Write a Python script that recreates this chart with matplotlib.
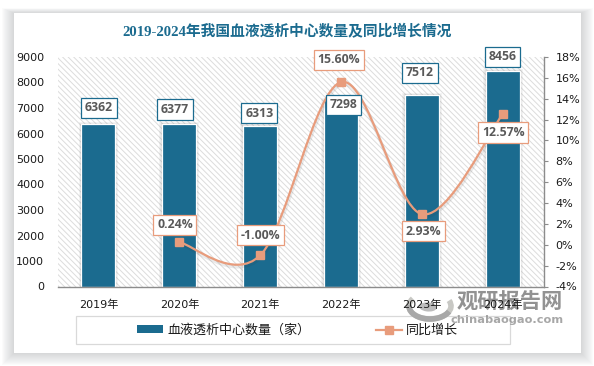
from matplotlib import pyplot as plt
from matplotlib import patheffects as pe
from matplotlib.patches import Rectangle, Ellipse, Arc
from matplotlib.path import Path
from matplotlib.patches import PathPatch
from matplotlib.lines import Line2D

years = ['2019年', '2020年', '2021年', '2022年', '2023年', '2024年']
counts = [6362, 6377, 6313, 7298, 7512, 8456]
growth_years = [1, 2, 3, 4, 5]
growth = [0.24, -1.00, 15.60, 2.93, 12.57]
left_ticks = [0, 1000, 2000, 3000, 4000, 5000, 6000, 7000, 8000, 9000]
right_ticks = [-4, -2, 0, 2, 4, 6, 8, 10, 12, 14, 16, 18]

BLUE = '#1b6b8f'
ORANGE = '#e89c7c'
GREY = '#595959'
W, H = 594, 366
CJK = ['DejaVu Sans', 'Noto Sans CJK SC']

plt.rcParams['font.family'] = CJK
plt.rcParams['hatch.linewidth'] = 0.7
plt.rcParams['hatch.color'] = '#dcdcdc'


def fx(px):
    return px / W


def fy(py):
    return 1 - py / H


fig = plt.figure(figsize=(W / 100, H / 100), dpi=100, facecolor='white')

# card with soft shadow
for i in range(12):
    grow = 12 - i
    fig.add_artist(Rectangle((fx(14 - grow), fy(353 + grow)), (567 + 2 * grow) / W, (340 + 1.4 * grow) / H,
                             transform=fig.transFigure, fc='#70757a', ec='none', alpha=0.022, zorder=-6))
fig.add_artist(Rectangle((fx(14), fy(353)), 567 / W, 340 / H, transform=fig.transFigure, fc='white', ec='none',
                         zorder=-5))
fig.add_artist(Rectangle((fx(76), fy(344.3)), (510 - 76) / W, 28 / H, transform=fig.transFigure, fc='white',
                         ec='#d9d9d9', lw=0.9, zorder=-4))

ax = fig.add_axes([fx(58), fy(286.5), (543.5 - 58) / W, (286.5 - 57) / H])
ax.set_facecolor('white')
ax.patch.set_hatch('\\\\\\\\\\\\')
ax.patch.set_edgecolor('#dcdcdc')
ax.patch.set_linewidth(0)

x = list(range(len(years)))
bars = ax.bar(x, counts, width=0.42, color=BLUE, edgecolor='white', linewidth=0.9, zorder=2)
for b in bars:
    for s in (3, 2, 1):
        ax.add_patch(Rectangle((b.get_x() - 0.012 * s, 0), b.get_width() + 0.024 * s, b.get_height() + 25 * s,
                               fc='#333333', ec='none', alpha=0.05, zorder=1.5))
ax.set_xlim(-0.5, 5.5)
ax.set_ylim(0, 9000)
ax.set_yticks(left_ticks)
ax.set_xticks(x)
ax.set_xticklabels(years, fontsize=8, color='#1a1a1a')
ax.tick_params(axis='y', length=0, labelsize=8, labelcolor='#1a1a1a', pad=10)
ax.tick_params(axis='x', length=0, pad=9.5)
for side in ('top', 'left', 'right'):
    ax.spines[side].set_visible(False)
ax.spines['bottom'].set_color('#8c8c8c')
ax.spines['bottom'].set_linewidth(1.0)

ax2 = ax.twinx()
ax2.set_ylim(-4, 18)
ax2.set_yticks(right_ticks)
ax2.set_yticklabels([f'{t}%' for t in right_ticks])
ax2.tick_params(axis='y', direction='out', length=2.6, width=0.8, color='#8c8c8c', labelsize=8,
                labelcolor='#1a1a1a', pad=6)
for side in ('top', 'left', 'bottom'):
    ax2.spines[side].set_visible(False)
ax2.spines['right'].set_color('#8c8c8c')
ax2.spines['right'].set_linewidth(1.0)
ax2.set_zorder(ax.get_zorder() + 1)
ax2.patch.set_visible(False)

# smoothed line, office style bezier through the points
verts = [(growth_years[0], growth[0])]
codes = [Path.MOVETO]
n = len(growth)
for i in range(n - 1):
    x0, y0 = growth_years[max(i - 1, 0)], growth[max(i - 1, 0)]
    x1, y1 = growth_years[i], growth[i]
    x2, y2 = growth_years[i + 1], growth[i + 1]
    x3, y3 = growth_years[min(i + 2, n - 1)], growth[min(i + 2, n - 1)]
    verts += [(x1 + (x2 - x0) / 6, y1 + (y2 - y0) / 6), (x2 - (x3 - x1) / 6, y2 - (y3 - y1) / 6), (x2, y2)]
    codes += [Path.CURVE4] * 3
line_fx = [pe.SimpleLineShadow(offset=(0.5, -1.5), shadow_color='#333333', alpha=0.1, linewidth=2.5), pe.Normal()]
ax2.add_patch(PathPatch(Path(verts, codes), fc='none', ec=ORANGE, lw=1.6, zorder=3, path_effects=line_fx))
ax2.plot(growth_years, growth, ls='none', marker='s', ms=6.2, color=ORANGE, zorder=4)

# value labels, offsets in pixels from the mark
px = 72 / 100
count_off = [(0.5, 16.5), (-4.5, 14.5), (-1, 12.5), (2.5, -4.5), (-2, 22), (-0.5, 14)]
growth_off = [(-4.5, 17.5), (0.5, 20), (-2.2, 22.2), (1.7, -17), (0.3, -18.7)]
for xi, v, off in zip(x, counts, count_off):
    ax2.annotate(str(v), (xi, v / 9000 * 22 - 4), xytext=(off[0] * px, off[1] * px), textcoords='offset points',
                 ha='center', va='center', fontsize=8.8, fontweight='bold', color=GREY, zorder=6,
                 family=['Open Sans'], bbox=dict(boxstyle='square,pad=0.3', fc='white', ec=BLUE, lw=0.9))
for xi, v, off in zip(growth_years, growth, growth_off):
    ax2.annotate(f'{v:.2f}%', (xi, v), xytext=(off[0] * px, off[1] * px), textcoords='offset points', ha='center',
                 va='center', fontsize=8.8, fontweight='bold', color=GREY, zorder=6,
                 family=['Open Sans'], bbox=dict(boxstyle='square,pad=0.3', fc='white', ec=ORANGE, lw=0.9))

fig.text(fx(287.5), fy(32), '2019-2024年我国血液透析中心数量及同比增长情况', ha='center', va='center', fontsize=10.6,
         fontweight='bold', color=BLUE, family=['Liberation Serif', 'Noto Sans CJK SC'])

handles = [Rectangle((0, 0), 1, 1, fc=BLUE, ec='none'),
           Line2D([], [], color=ORANGE, lw=1.6, marker='s', ms=6.2)]
leg = fig.legend(handles, ['血液透析中心数量（家）', '同比增长'], loc='center', ncol=2,
                 bbox_to_anchor=(fx(297.5), fy(330.3)), frameon=False,
                 prop={'family': ['Noto Sans CJK SC'], 'size': 9.4}, handlelength=2, handleheight=0.5,
                 handletextpad=0.35, columnspacing=5, borderpad=0, borderaxespad=0)
for t in leg.get_texts():
    t.set_color('#1a1a1a')

# watermark
fig.text(fx(510), fy(302), '观研报告网', ha='center', va='center', fontsize=15.3, fontweight='black', color='#6e6e6e',
         alpha=0.75, family=['Noto Sans CJK SC'], zorder=-1)
fig.text(fx(507.5), fy(320), 'chinabaogao.com', ha='center', va='center', fontsize=8.2, fontweight='bold',
         color='#8a8a8a', alpha=0.75, zorder=-1)
fig.add_artist(Arc((fx(430), fy(306)), 42 / W, 26 / H, angle=-15, theta1=160, theta2=400, transform=fig.transFigure,
                   ec='#c8c8c4', lw=4, zorder=-1))
fig.add_artist(Arc((fx(430), fy(306)), 42 / W, 26 / H, angle=-15, theta1=-170, theta2=-10, transform=fig.transFigure,
                   ec='#a8a8a8', lw=4, zorder=-1))
fig.add_artist(Ellipse((fx(428), fy(307)), 18 / W, 9 / H, angle=-15, transform=fig.transFigure, fc='#bdbdbd',
                       ec='none', zorder=-1))

fig.savefig('out.png', dpi=100)
